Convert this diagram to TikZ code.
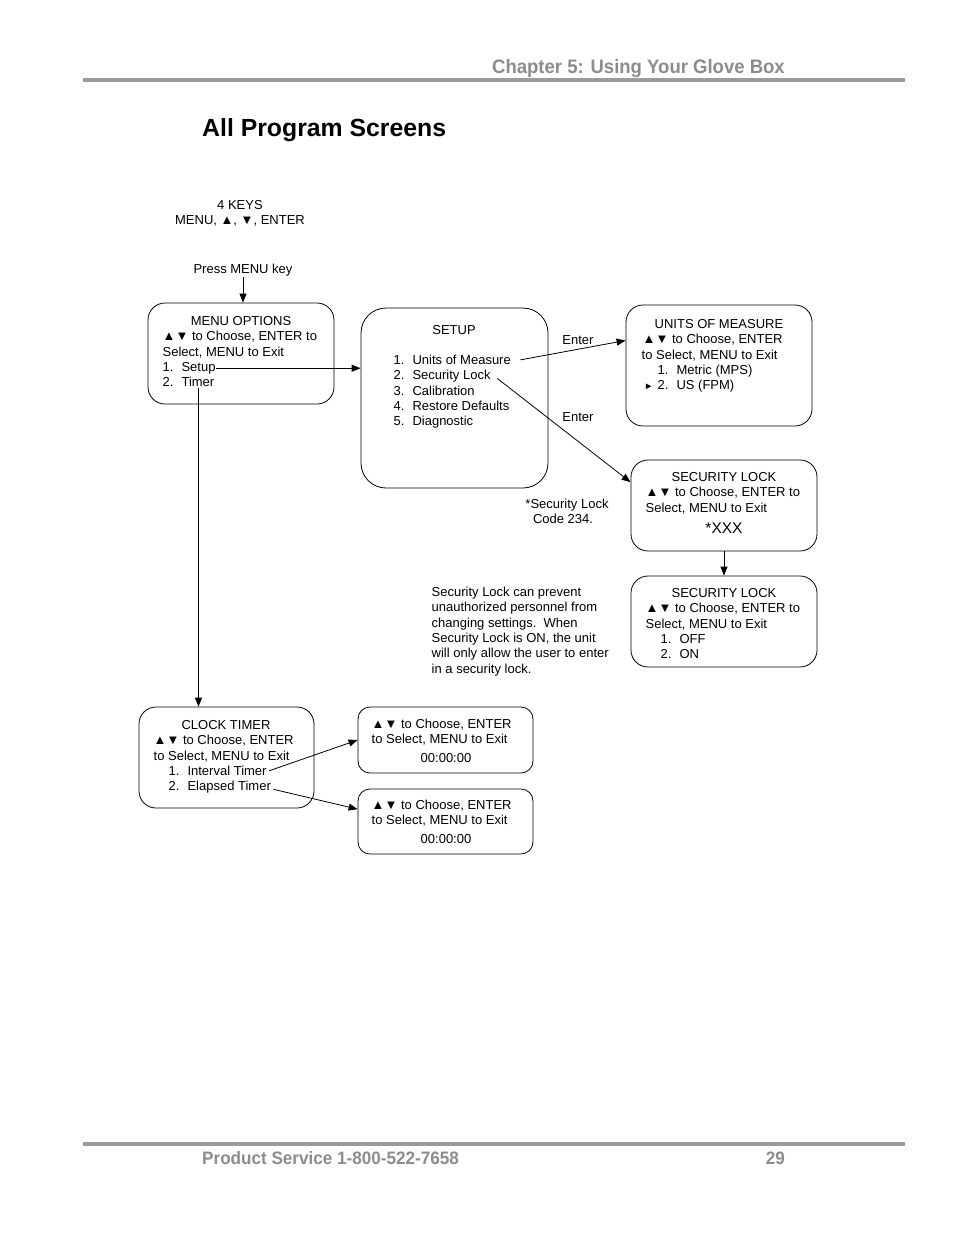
\documentclass[tikz,border=0pt]{standalone}
\usepackage{fontspec}
\setmainfont{Liberation Sans}
\newfontfamily\headfont[FakeStretch=0.95]{Liberation Sans}
\usepackage{xcolor}
\usetikzlibrary{arrows.meta,positioning}
\definecolor{pagegray}{RGB}{140,140,140}
\definecolor{rulegray}{RGB}{155,155,155}
\newcommand\bodyfont{\fontsize{13}{15.3}\selectfont}
\newcommand\lnum[1]{#1.\hspace{8pt}}
\begin{document}
\begin{tikzpicture}[
    x=1pt, y=-1pt,
    screen/.style={
      draw,
      line width=0.8pt,
      rounded corners=17pt,
      inner sep=0pt
    },
    txt/.style={inner sep=0.5pt, anchor=base west, yshift=-1pt, font=\bodyfont},
    ctxt/.style={txt, anchor=base},
    headtxt/.style={inner sep=0pt, text=pagegray, font=\headfont\fontsize{19.5}{22}\selectfont\bfseries},
    arr/.style={-{Triangle[length=9pt,width=7pt]}, line width=0.8pt}
  ]

    % Page
    \fill[white] (0,0) rectangle (954,1235);
    \useasboundingbox (0,0) rectangle (954,1235);

    % Header and footer rules
    \draw[rulegray, line width=3.5pt] (83,80) -- (905,80);
    \draw[rulegray, line width=3.5pt] (83,1144) -- (905,1144);
    \node[headtxt, anchor=base east] (chapter) at (785,73) {Chapter 5: Using Your Glove Box};
    \node[headtxt, anchor=base west, font=\headfont\fontsize{18}{20}\selectfont\bfseries] (service) at (202,1164) {Product Service 1-800-522-7658};
    \node[headtxt, anchor=base east, font=\headfont\fontsize{18}{20}\selectfont\bfseries] (page) at (785,1164) {29};

    % Title
    \node[anchor=base west, inner sep=0pt, font=\fontsize{24.8}{28}\selectfont\bfseries] (title) at (202,136) {All Program Screens};

    % Keys
    \node[ctxt] (keys1) at (240,208.5) {4 KEYS};
    \node[ctxt] (keys2) at (240,223.5) {MENU, ▲, ▼, ENTER};
    \node[ctxt] (press) at (243,272.5) {Press MENU key};

    % Screens
    \node[screen, minimum width=186pt, minimum height=101pt] (menu) at (241,353.5) {};
    \node[screen, minimum width=187pt, minimum height=180pt, rounded corners=25pt] (setup) at (454.5,398) {};
    \node[screen, minimum width=186pt, minimum height=121pt] (units) at (719,365.5) {};
    \node[screen, minimum width=186pt, minimum height=91pt] (lock1) at (724,505.5) {};
    \node[screen, minimum width=186pt, minimum height=91pt] (lock2) at (724,621.5) {};
    \node[screen, minimum width=175pt, minimum height=101pt] (clock) at (226.5,757.5) {};
    \node[screen, minimum width=175pt, minimum height=66pt, rounded corners=12pt] (ival) at (445.5,740) {};
    \node[screen, minimum width=175pt, minimum height=65pt, rounded corners=12pt] (elap) at (445.5,821.5) {};

    % Menu options
    \node[ctxt] (mtitle) at (241,324.5) {MENU OPTIONS};
    \foreach \t [count=\i] in {{▲▼ to Choose, ENTER to}, {Select, MENU to Exit}, {\lnum{1}Setup}, {\lnum{2}Timer}}
      \node[txt] (m\i) at (162,{339.8+15.3*(\i-1)}) {\t};

    % Setup
    \node[ctxt] (stitle) at (454,333.5) {SETUP};
    \foreach \t [count=\i] in {{\lnum{1}Units of Measure}, {\lnum{2}Security Lock}, {\lnum{3}Calibration}, {\lnum{4}Restore Defaults}, {\lnum{5}Diagnostic}}
      \node[txt] (s\i) at (393,{363.5+15.3*(\i-1)}) {\t};

    % Units of measure
    \node[ctxt] (utitle) at (719,327.5) {UNITS OF MEASURE};
    \foreach \x/\t [count=\i] in {642/{▲▼ to Choose, ENTER}, 641/{to Select, MENU to Exit}, 657/{\lnum{1}Metric (MPS)}, 657/{\lnum{2}US (FPM)}}
      \node[txt] (u\i) at (\x,{342.8+15.3*(\i-1)}) {\t};
    \node[txt, font=\fontsize{9.5}{10}\selectfont] (upick) at (643.5,388.2) {►};

    % Security lock code
    \node[ctxt] (ltitle1) at (724,480.5) {SECURITY LOCK};
    \foreach \t [count=\i] in {{▲▼ to Choose, ENTER to}, {Select, MENU to Exit}}
      \node[txt] (la\i) at (645,{495.8+15.3*(\i-1)}) {\t};
    \node[ctxt, font=\fontsize{15.5}{17}\selectfont] (code) at (724,532) {*XXX};
    \node[ctxt] (note1) at (567,507.5) {*Security Lock};
    \node[ctxt] (note2) at (563,522.8) {Code 234.};

    % Security lock on/off
    \node[ctxt] (ltitle2) at (724,596.5) {SECURITY LOCK};
    \foreach \x/\t [count=\i] in {645/{▲▼ to Choose, ENTER to}, 645/{Select, MENU to Exit}, 660/{\lnum{1}OFF}, 660/{\lnum{2}ON}}
      \node[txt] (lb\i) at (\x,{611.8+15.3*(\i-1)}) {\t};

    % Explanation
    \foreach \t [count=\i] in {{Security Lock can prevent}, {unauthorized personnel from}, {changing settings.\ \ When}, {Security Lock is ON, the unit}, {will only allow the user to enter}, {in a security lock.}}
      \node[txt] (p\i) at (431,{595.5+15.3*(\i-1)}) {\t};

    % Clock timer
    \node[ctxt] (ctitle) at (226,728.5) {CLOCK TIMER};
    \foreach \x/\t [count=\i] in {153/{▲▼ to Choose, ENTER}, 153/{to Select, MENU to Exit}, 168/{\lnum{1}Interval Timer}, 168/{\lnum{2}Elapsed Timer}}
      \node[txt] (c\i) at (\x,{743.8+15.3*(\i-1)}) {\t};

    % Timer screens
    \foreach \t [count=\i] in {{▲▼ to Choose, ENTER}, {to Select, MENU to Exit}}
      \node[txt] (ia\i) at (371,{727.5+15.3*(\i-1)}) {\t};
    \node[ctxt] (itime) at (446,761.5) {00:00:00};
    \foreach \t [count=\i] in {{▲▼ to Choose, ENTER}, {to Select, MENU to Exit}}
      \node[txt] (ea\i) at (371,{808.5+15.3*(\i-1)}) {\t};
    \node[ctxt] (etime) at (446,842.5) {00:00:00};

    % Enter labels
    \node[ctxt] (enter1) at (578,343.5) {Enter};
    \node[ctxt] (enter2) at (578,420.5) {Enter};

    % Connectors
    \draw[arr] (press.south) -- (press.south |- menu.north);
    \draw[arr] (m3.east) -- (m3.east -| setup.west);
    \draw[arr] ([xshift=10pt]m4.south) -- ([xshift=10pt]m4.south |- clock.north);
    \draw[arr] ([xshift=9pt]s1.east) -- (units.165);
    \draw[arr] ([xshift=6pt,yshift=-2pt]s2.east) -- (lock1.166);
    \draw[arr] (lock1.south) -- (lock2.north);
    \draw[arr] ([xshift=2pt]c3.east) -- (ival.west);
    \draw[arr] ([xshift=2pt,yshift=-2pt]c4.east) -- (elap.172);

  \end{tikzpicture}
\end{document}
